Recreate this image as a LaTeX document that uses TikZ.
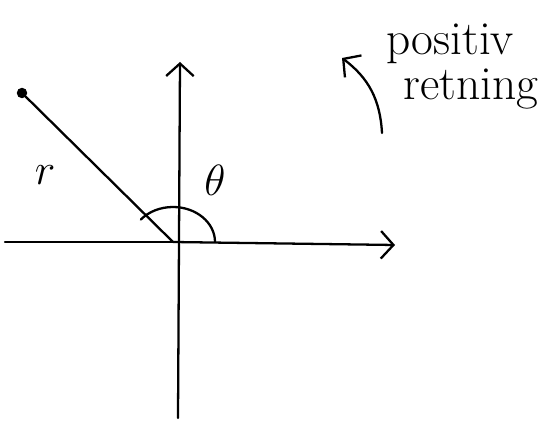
\documentclass[tikz,border=0pt]{standalone}
\usetikzlibrary{arrows.meta}

\begin{document}
\begin{tikzpicture}[
  x=0.02cm, y=0.02cm,
  every node/.style={font=\fontsize{27}{31}\selectfont},
  pen/.style={line width=1.3pt, line cap=round},
  ax/.style={-{Straight Barb[length=2.5mm, width=5.5mm]}, pen}
]
\useasboundingbox (0,0) rectangle (545,429);
\coordinate (O)  at (173,187);
\coordinate (XL) at (5,187);
\coordinate (XR) at (395,184);
\coordinate (YB) at (178,11);
\coordinate (YT) at (180,367);
\node[circle, draw, fill, pen, inner sep=0pt, minimum size=1.6mm] (P) at (22,336) {};
\node (r) at (45,254) {$r$};
\node (th) at (215,249) {$\theta$};
\node[anchor=base west] (pos) at (380,374) {positiv};
\node[anchor=base west] (ret) at (397,329) {retning};
\coordinate (Rtail) at (382,296);
\coordinate (Rhead) at (342,371);
\draw[pen] (XL) -- (O);
\draw[ax] (O) -- (XR);
\draw[ax] (YB) -- (YT);
\draw[pen] (O) -- (P);
\draw[pen] (O) ++(42,0) arc[start angle=0, end angle=140, x radius=42, y radius=35];
\draw[ax] (Rtail) to[bend right=25] (Rhead);
\end{tikzpicture}
\end{document}
